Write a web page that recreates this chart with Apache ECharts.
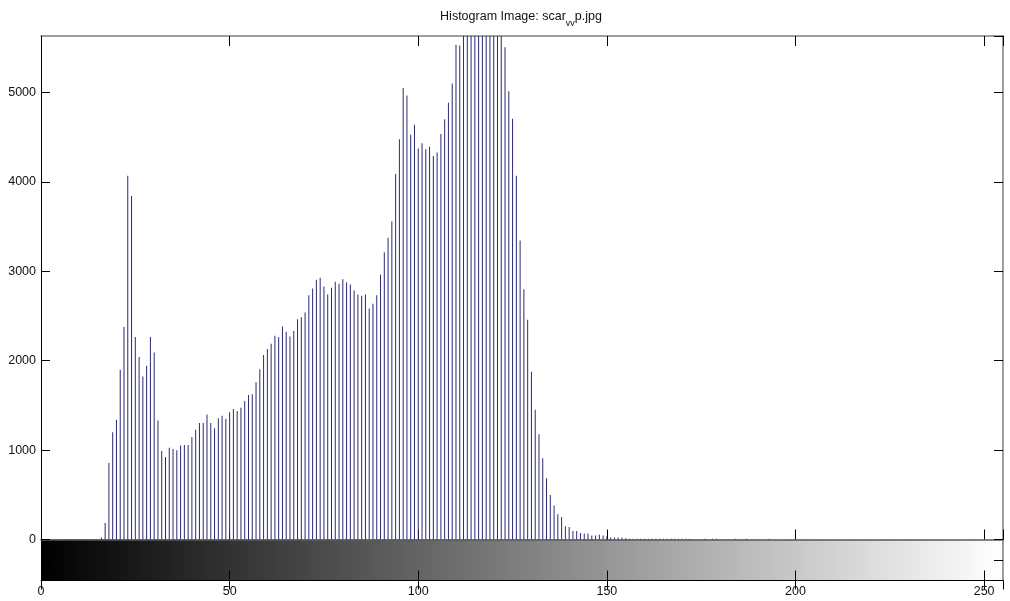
<!DOCTYPE html>
<html>
<head>
<meta charset="utf-8">
<script src="https://cdn.jsdelivr.net/npm/echarts@6/dist/echarts.min.js"></script>
<style>
html,body{margin:0;padding:0;background:#fff;}
#chart{width:1010px;height:601px;}
</style>
</head>
<body>
<div id="chart"></div>
<script>
// Histogram counts for gray levels 0..255 (index = gray level)
const counts = [
  0,0,0,0,0,0,0,0,0,0,0,0,0,0,0,0,            // 0-15
  22,185,856,1198,1340,1899,2375,4066,3842,2263, // 16-25
  2040,1824,1943,2263,2092,1332,990,923,1027,1012, // 26-35
  997,1050,1057,1057,1146,1228,1303,1303,1399,1303, // 36-45
  1243,1355,1385,1347,1422,1459,1437,1474,1548,1615, // 46-55
  1623,1757,1905,2062,2129,2189,2279,2263,2382,2323, // 56-65
  2271,2330,2464,2486,2539,2732,2807,2904,2926,2829, // 66-75
  2740,2814,2882,2859,2911,2874,2852,2785,2740,2725, // 76-85
  2740,2583,2636,2732,2963,3212,3373,3559,4088,4475, // 86-95
  5049,4966,4527,4639,4371,4430,4363,4393,4289,4326, // 96-105
  4535,4698,4884,5100,5532,5525,5900,6200,6400,6600, // 106-115
  6700,6800,6700,6500,6300,6100,5800,5503,5011,4706, // 116-125
  4066,3343,2799,2457,1876,1452,1176,908,685,498,   // 126-135
  379,282,252,148,141,96,96,74,67,67,               // 136-145
  45,45,52,45,35,22,22,22,22,15,                    // 146-155
  8,8,8,8,8,8,8,8,8,8,                              // 156-165
  8,8,8,8,8,8,8,0,0,0,                              // 166-175
  8,0,8,8,0,0,0,0,8,0,                              // 176-185
  0,8,0,0,0,0,0,8,0,0,                              // 186-195
  0,0,0,0,0,0,0,0,0,0,                              // 196-205
  0,0,0,0,0,0,0,0,0,0,                              // 206-215
  0,0,0,0,0,0,0,0,0,0,                              // 216-225
  0,0,0,0,0,0,0,0,0,0,                              // 226-235
  0,0,0,0,0,0,0,0,0,0,                              // 236-245
  0,0,0,0,0,0,0,0,0,0                               // 246-255
];
const xTicks = [0, 50, 100, 150, 200, 250];
const yTicks = [0, 1000, 2000, 3000, 4000, 5000];
const titleParts = ['Histogram Image: scar', 'vv', 'p.jpg'];

const X_MAX = 255, Y_MAX = 5630;
const chart = echarts.init(document.getElementById('chart'), null, {renderer: 'canvas'});
const font = '"Liberation Sans", Arial, sans-serif';
const labelStyle = {color: '#111', fontSize: 12.5, fontFamily: font};

const histData = counts.map((c, i) => [i, c]).filter(d => d[1] > 0);

function xAx(grid, pos, opts) {
  return Object.assign({
    type: 'value', gridIndex: grid, position: pos, min: 0, max: X_MAX, interval: 50,
    splitLine: {show: false},
    axisLine: {show: true, onZero: false, lineStyle: {color: '#000', width: 1}},
    axisTick: {show: true, inside: true, length: 10, lineStyle: {color: '#000', width: 1}},
    axisLabel: {show: false}
  }, opts);
}
function yAx(grid, pos, max, interval, opts) {
  return Object.assign({
    type: 'value', gridIndex: grid, position: pos, min: 0, max: max, interval: interval,
    splitLine: {show: false},
    axisLine: {show: true, onZero: false, lineStyle: {color: '#000', width: 1}},
    axisTick: {show: true, inside: true, length: 9, lineStyle: {color: '#000', width: 1}},
    axisLabel: {show: false}
  }, opts);
}

chart.setOption({
  animation: false,
  backgroundColor: '#fff',
  title: {
    text: '{a|' + titleParts[0] + '}{s|' + titleParts[1] + '}{a|' + titleParts[2] + '}',
    left: 516, top: 5, textAlign: 'center',
    textStyle: {
      fontWeight: 'normal',
      rich: {
        a: {fontSize: 12.5, fontWeight: 'normal', fontFamily: font, color: '#111', lineHeight: 15, verticalAlign: 'top'},
        s: {fontSize: 9, fontWeight: 'normal', fontFamily: font, color: '#111', lineHeight: 9, padding: [9, 0, 0, 0], verticalAlign: 'top'}
      }
    }
  },
  grid: [
    {left: 41, right: 7, top: 36, height: 503.5, show: false},
    {left: 41, right: 7, top: 539.5, height: 41, show: true, borderWidth: 0,
     backgroundColor: {type: 'linear', x: 0, y: 0, x2: 1, y2: 0,
       colorStops: [{offset: 0, color: '#000'}, {offset: 1, color: '#fff'}]}}
  ],
  xAxis: [
    xAx(0, 'bottom', {axisLine: {show: true, onZero: false, lineStyle: {color: '#5a5a5a', width: 1.5}}}),
    xAx(0, 'top', {axisLine: {show: true, onZero: false, lineStyle: {color: '#7d7d7d', width: 1.5}}}),
    xAx(1, 'bottom', {
      axisLabel: {show: true, margin: 5, showMaxLabel: false, ...labelStyle,
        formatter: v => xTicks.includes(v) ? String(v) : ''}
    }),
    xAx(1, 'top', {axisLine: {show: false}, axisTick: {show: true, inside: true, length: 9, lineStyle: {color: '#000'}}})
  ],
  yAxis: [
    yAx(0, 'left', Y_MAX, 1000, {
      axisLabel: {show: true, margin: 5, showMaxLabel: false, ...labelStyle,
        formatter: v => yTicks.includes(v) ? String(v) : ''}
    }),
    yAx(0, 'right', Y_MAX, 1000, {axisLine: {show: true, onZero: false, lineStyle: {color: '#7d7d7d', width: 1.5}}}),
    yAx(1, 'left', 1, 0.5, {}),
    yAx(1, 'right', 1, 0.5, {axisLine: {show: true, onZero: false, lineStyle: {color: '#7d7d7d', width: 1.5}}})
  ],
  series: [{
    type: 'bar',
    xAxisIndex: 0, yAxisIndex: 0,
    data: histData,
    barWidth: 1,
    clip: true,
    itemStyle: {color: '#2a2a75'},
    silent: true
  }]
});
</script>
</body>
</html>
